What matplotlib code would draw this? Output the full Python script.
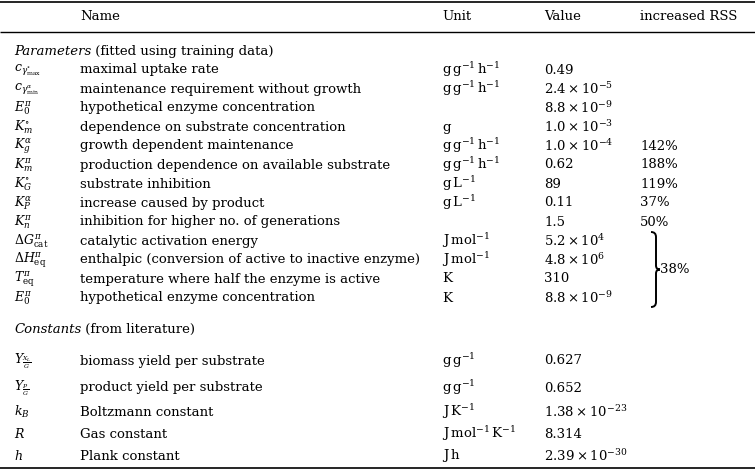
import matplotlib
matplotlib.use("Agg")
import matplotlib.pyplot as plt
from matplotlib.path import Path
from matplotlib.patches import PathPatch

plt.rcParams['font.family'] = ['DejaVu Serif']
plt.rcParams['mathtext.fontset'] = 'dejavuserif'

headers = ["Name", "Unit", "Value", "increased RSS"]

param_heading = ("Parameters", " (fitted using training data)")
param_symbols = [
    r"$c_{\gamma^{\circ}_{\max}}$",
    r"$c_{\gamma^{\alpha}_{\min}}$",
    r"$E_0^{\pi}$",
    r"$K_m^{\circ}$",
    r"$K_g^{\alpha}$",
    r"$K_m^{\pi}$",
    r"$K_G^{\circ}$",
    r"$K_P^{\alpha}$",
    r"$K_n^{\pi}$",
    r"$\Delta G^{\pi}_{\mathrm{cat}}$",
    r"$\Delta H^{\pi}_{\mathrm{eq}}$",
    r"$T^{\pi}_{\mathrm{eq}}$",
    r"$E^{\pi}_0$",
]
param_names = [
    "maximal uptake rate",
    "maintenance requirement without growth",
    "hypothetical enzyme concentration",
    "dependence on substrate concentration",
    "growth dependent maintenance",
    "production dependence on available substrate",
    "substrate inhibition",
    "increase caused by product",
    "inhibition for higher no. of generations",
    "catalytic activation energy",
    "enthalpic (conversion of active to inactive enzyme)",
    "temperature where half the enzyme is active",
    "hypothetical enzyme concentration",
]
param_units = [
    r"$\mathrm{g\,g^{-1}\,h^{-1}}$",
    r"$\mathrm{g\,g^{-1}\,h^{-1}}$",
    "",
    "g",
    r"$\mathrm{g\,g^{-1}\,h^{-1}}$",
    r"$\mathrm{g\,g^{-1}\,h^{-1}}$",
    r"$\mathrm{g\,L^{-1}}$",
    r"$\mathrm{g\,L^{-1}}$",
    "",
    r"$\mathrm{J\,mol^{-1}}$",
    r"$\mathrm{J\,mol^{-1}}$",
    "K",
    "K",
]
param_values = [
    "0.49",
    r"$2.4\times10^{-5}$",
    r"$8.8\times10^{-9}$",
    r"$1.0\times10^{-3}$",
    r"$1.0\times10^{-4}$",
    "0.62",
    "89",
    "0.11",
    "1.5",
    r"$5.2\times10^{4}$",
    r"$4.8\times10^{6}$",
    "310",
    r"$8.8\times10^{-9}$",
]
param_rss = ["", "", "", "", "142%", "188%", "119%", "37%", "50%", "", "", "", ""]
group_rss = "38%"  # shared by the last four parameters

const_heading = ("Constants", " (from literature)")
const_symbols = [
    r"$Y_{\frac{X_L}{G}}$",
    r"$Y_{\frac{P}{G}}$",
    r"$k_B$",
    r"$R$",
    r"$h$",
]
const_names = [
    "biomass yield per substrate",
    "product yield per substrate",
    "Boltzmann constant",
    "Gas constant",
    "Plank constant",
]
const_units = [
    r"$\mathrm{g\,g^{-1}}$",
    r"$\mathrm{g\,g^{-1}}$",
    r"$\mathrm{J\,K^{-1}}$",
    r"$\mathrm{J\,mol^{-1}\,K^{-1}}$",
    r"$\mathrm{J\,h}$",
]
const_values = [
    "0.627",
    "0.652",
    r"$1.38\times10^{-23}$",
    "8.314",
    r"$2.39\times10^{-30}$",
]

W, H = 755, 470
fig = plt.figure(figsize=(W / 100, H / 100), dpi=100)
ax = fig.add_axes([0, 0, 1, 1])
ax.set_xlim(0, W)
ax.set_ylim(H, 0)
ax.axis('off')

FS = 9.5
FS_SYM = 9.0
col_sym, col_name, col_unit, col_val, col_rss = 14, 80, 442, 544, 640

def t(x, y, s, fs=FS, **kw):
    kw.setdefault('va', 'center')
    return ax.text(x, y, s, fontsize=fs, ha='left', **kw)

# rules
for y, lw in [(1.5, 1.2), (31.5, 1.0), (468, 1.2)]:
    ax.plot([0, W], [y, y], color='black', lw=lw, solid_capstyle='butt')

# headers
for x, h in zip([col_name, col_unit, col_val, col_rss], headers):
    t(x, 17, h)

renderer = fig.canvas.get_renderer()

def heading(y, parts):
    a = t(col_sym, y + 4, parts[0], style='italic', va='baseline')
    bb = a.get_window_extent(renderer=renderer)
    t(col_sym + bb.width, y + 4, parts[1], va='baseline')

heading(51, param_heading)

row_y = [70 + 19 * i for i in range(len(param_names))]
for y, s, n, u, v, r in zip(row_y, param_symbols, param_names, param_units, param_values, param_rss):
    t(col_sym, y, s, fs=FS_SYM)
    t(col_name, y, n)
    if u:
        t(col_unit, y, u)
    t(col_val, y, v)
    if r:
        t(col_rss, y, r)

# brace over last four rows
y0, y1 = row_y[9] - 9, row_y[12] + 9
ym = (y0 + y1) / 2
xb = 651
w = 5
verts = [(xb, y0), (xb + w, y0), (xb + w, y0 + 5), (xb + w, ym - 4),
         (xb + w, ym), (xb + w + 4, ym),
         (xb + w + 4, ym), (xb + w, ym), (xb + w, ym + 4),
         (xb + w, y1 - 5), (xb + w, y1), (xb, y1)]
codes = [Path.MOVETO, Path.CURVE3, Path.CURVE3, Path.LINETO,
         Path.CURVE3, Path.CURVE3,
         Path.MOVETO, Path.CURVE3, Path.CURVE3,
         Path.LINETO, Path.CURVE3, Path.CURVE3]
ax.add_patch(PathPatch(Path(verts, codes), fill=False, lw=1.4, color='black'))
t(xb + w + 4, ym, group_rss)

heading(329, const_heading)

crow_y = [361, 388, 412, 434, 456]
for y, s, n, u, v in zip(crow_y, const_symbols, const_names, const_units, const_values):
    t(col_sym, y, s, fs=FS_SYM)
    t(col_name, y, n)
    t(col_unit, y, u)
    t(col_val, y, v)

fig.savefig("out.png", dpi=100)
